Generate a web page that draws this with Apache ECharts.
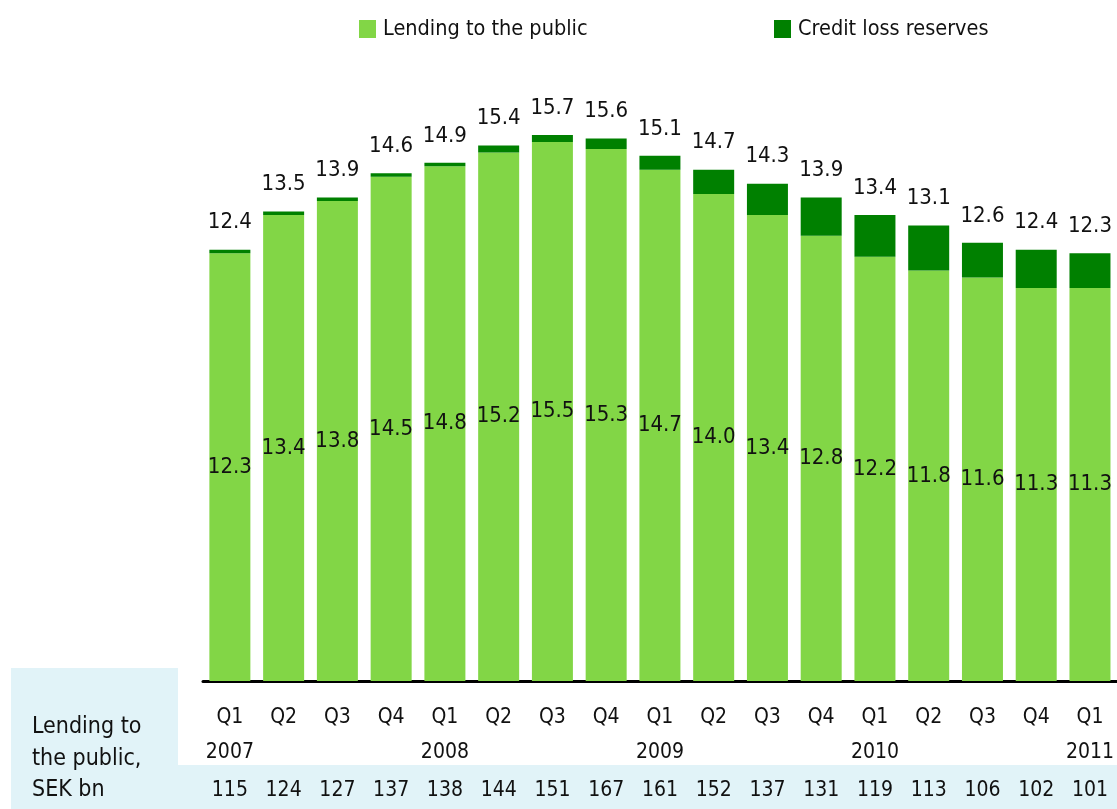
<!DOCTYPE html>
<html>
<head>
<meta charset="utf-8">
<script src="https://cdn.jsdelivr.net/npm/echarts@6/dist/echarts.min.js"></script>
<style>
html,body{margin:0;padding:0;background:#fff;}
#chart{width:1117px;height:809px;}
</style>
</head>
<body>
<div id="chart"></div>
<script>
// ---- data ----
const quarters = ['Q1','Q2','Q3','Q4','Q1','Q2','Q3','Q4','Q1','Q2','Q3','Q4','Q1','Q2','Q3','Q4','Q1'];
const years = ['2007','','','','2008','','','','2009','','','','2010','','','','2011'];
const lendingSEKbn = [115,124,127,137,138,144,151,167,161,152,137,131,119,113,106,102,101];
const lending = [12.3,13.4,13.8,14.5,14.8,15.2,15.5,15.3,14.7,14.0,13.4,12.8,12.2,11.8,11.6,11.3,11.3];
const totals = [12.4,13.5,13.9,14.6,14.9,15.4,15.7,15.6,15.1,14.7,14.3,13.9,13.4,13.1,12.6,12.4,12.3];
const seriesNames = ['Lending to the public','Credit loss reserves'];

const FONT = '"DejaVu Sans Condensed","Liberation Sans Narrow","Liberation Sans",sans-serif';
const reserves = totals.map((t,i)=>Math.round((t-lending[i])*10)/10);
const cats = quarters.map((q,i)=>q+'|'+years[i]+'|'+lendingSEKbn[i]);

const chart = echarts.init(document.getElementById('chart'));
chart.setOption({
  animation:false,
  textStyle:{fontFamily:FONT},
  legend:[
    {data:[seriesNames[0]], left:359, top:18, padding:0, itemWidth:17, itemHeight:18, icon:'rect', itemGap:0,
     textStyle:{fontFamily:FONT,fontSize:21.5,color:'#111',padding:[0,0,0,2]}},
    {data:[seriesNames[1]], left:774, top:18, padding:0, itemWidth:17, itemHeight:18, icon:'rect', itemGap:0,
     textStyle:{fontFamily:FONT,fontSize:21.5,color:'#111',padding:[0,0,0,2]}}
  ],
  grid:{left:203,right:0,top:55,bottom:128,containLabel:false},
  xAxis:{
    type:'category', data:cats,
    axisTick:{show:false},
    axisLine:{lineStyle:{color:'#000',width:3}},
    axisLabel:{
      margin:19, interval:0,
      formatter:function(v){const p=v.split('|');return '{q|'+p[0]+'}\n{y|'+(p[1]||' ')+'}\n{v|'+p[2]+'}';},
      rich:{
        q:{fontFamily:FONT,fontSize:21,color:'#111',lineHeight:35},
        y:{fontFamily:FONT,fontSize:21,color:'#111',lineHeight:36},
        v:{fontFamily:FONT,fontSize:21,color:'#111',lineHeight:39}
      }
    }
  },
  yAxis:{type:'value',min:0,max:18,show:false,splitLine:{show:false}},
  graphic:[
    {type:'rect',z:-10,shape:{x:11,y:668,width:167,height:141},style:{fill:'#E1F3F8'}},
    {type:'rect',z:-10,shape:{x:11,y:765,width:1106,height:44},style:{fill:'#E1F3F8'}},
    {type:'text',left:32,top:711.5,style:{text:'Lending to\nthe public,\nSEK bn',fontFamily:FONT,fontSize:23,lineHeight:31.5,fill:'#111'}}
  ],
  series:[
    {name:seriesNames[0],type:'bar',stack:'a',data:lending,barWidth:41,
     itemStyle:{color:'#82D646'},
     label:{show:true,position:'inside',fontFamily:FONT,fontSize:22,color:'#111',formatter:p=>lending[p.dataIndex].toFixed(1)}},
    {name:seriesNames[1],type:'bar',stack:'a',data:reserves,barWidth:41,
     itemStyle:{color:'#008000'},
     label:{show:true,position:'top',distance:16,fontFamily:FONT,fontSize:22,color:'#111',formatter:p=>totals[p.dataIndex].toFixed(1)}}
  ]
});
</script>
</body>
</html>
